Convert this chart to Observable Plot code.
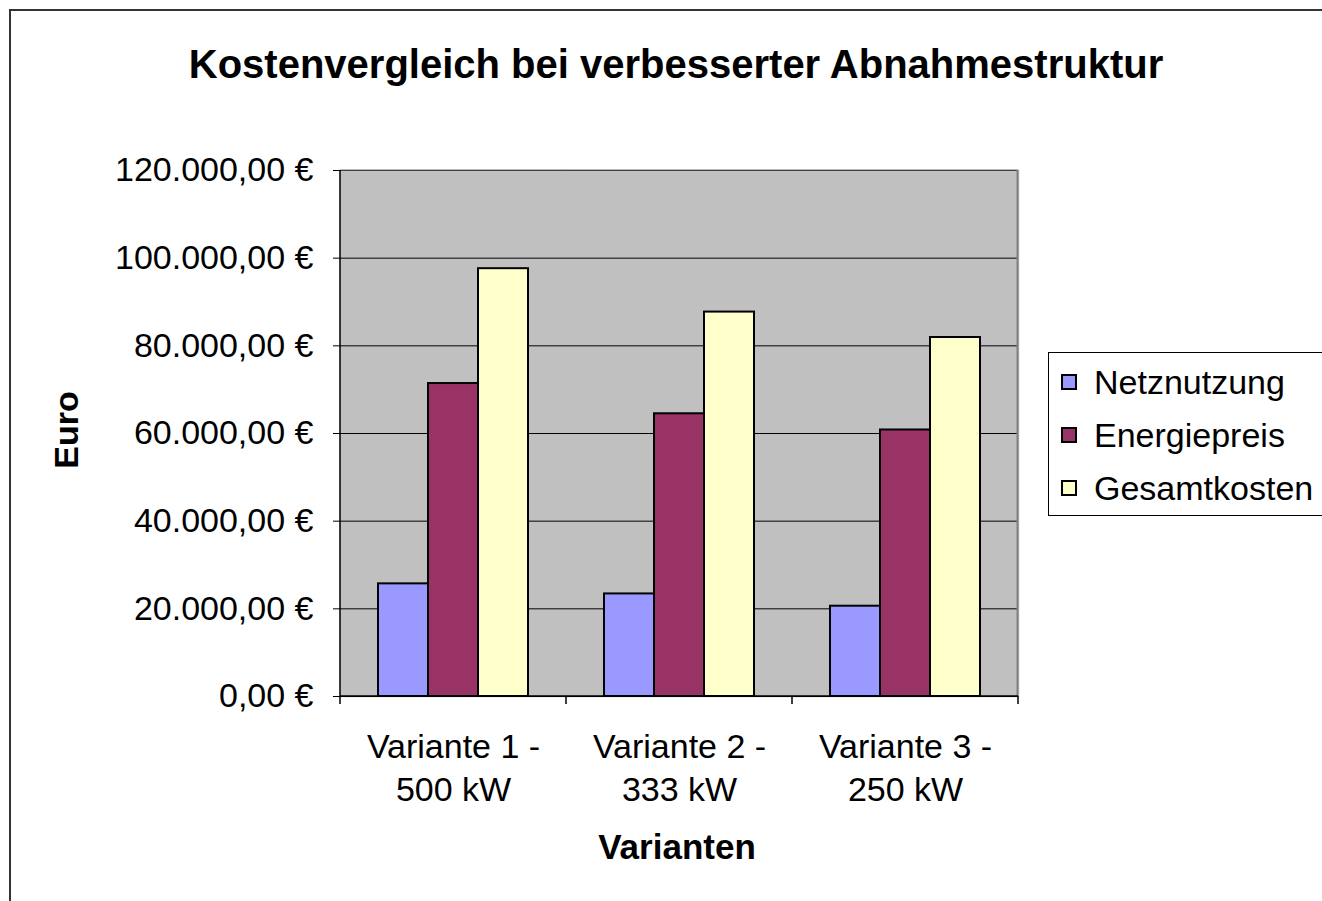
<!DOCTYPE html>
<html>
<head>
<meta charset="utf-8">
<script src="https://cdn.jsdelivr.net/npm/d3@7"></script>
<script src="https://cdn.jsdelivr.net/npm/@observablehq/plot@0.6"></script>
<style>
  html, body { margin: 0; padding: 0; background: #fff; overflow: hidden; }
  body { width: 1322px; height: 901px; position: relative; font-family: "Liberation Sans", Arial, sans-serif; }
  #wrap { position: absolute; left: 0; top: 0; width: 1322px; height: 901px; }
  #border { position: absolute; left: 9px; top: 9px; width: 1400px; height: 1000px; border: 2px solid #333; box-sizing: border-box; }
  #title { position: absolute; left: 176px; top: 44px; width: 1000px; text-align: center; font-weight: bold; font-size: 40px; line-height: 40px; white-space: nowrap; }
  #ylabel { position: absolute; left: 66px; top: 430px; transform: translate(-50%, -50%) rotate(-90deg); font-weight: bold; font-size: 34px; line-height: 34px; white-space: nowrap; }
  #xlabel { position: absolute; left: 477px; top: 829px; width: 400px; text-align: center; font-weight: bold; font-size: 35px; line-height: 35px; }
  #legend { position: absolute; left: 1048px; top: 352px; width: 300px; height: 164px; border: 1px solid #000; background: #fff; box-sizing: border-box; }
  .item { position: absolute; left: 12px; height: 34px; display: flex; align-items: center; font-size: 34px; line-height: 34px; white-space: nowrap; }
  .sw { width: 12px; height: 12px; border: 2px solid #000; margin-right: 17px; }
  #chart { position: absolute; left: 0; top: 0; }
</style>
</head>
<body>
<div id="wrap">
  <div id="border"></div>
  <div id="title">Kostenvergleich bei verbesserter Abnahmestruktur</div>
  <div id="ylabel">Euro</div>
  <div id="xlabel">Varianten</div>
  <div id="chart"></div>
  <div id="legend"></div>
</div>
<script>
// ---- data ----
const categories = ["Variante 1 - 500 kW", "Variante 2 - 333 kW", "Variante 3 - 250 kW"];
const categoryLabels = ["Variante 1 -\n500 kW", "Variante 2 -\n333 kW", "Variante 3 -\n250 kW"];
const series = ["Netznutzung", "Energiepreis", "Gesamtkosten"];
const netznutzung = [25700, 23400, 20600];
const energiepreis = [71400, 64500, 60800];
const gesamtkosten = [97600, 87700, 81900];
const seriesColors = ["#9999FF", "#993366", "#FFFFCC"];
const yTicks = [0, 20000, 40000, 60000, 80000, 100000, 120000];

const valuesBySeries = [netznutzung, energiepreis, gesamtkosten];
const table = [];
categories.forEach((c, ci) => {
  series.forEach((s, si) => table.push({category: c, series: s, value: valuesBySeries[si][ci]}));
});
const labelOf = new Map(categories.map((c, i) => [c, categoryLabels[i]]));

const de = d3.formatLocale({decimal: ",", thousands: ".", grouping: [3], currency: ["", " €"]});
const fmt = de.format("$,.2f");

const chart = Plot.plot({
  width: 1322,
  height: 901,
  marginLeft: 340,
  marginRight: 304,
  marginTop: 170,
  marginBottom: 205,
  style: {fontFamily: "'Liberation Sans', Arial, sans-serif", fontSize: "34px", color: "#000", background: "transparent", overflow: "visible"},
  fx: {domain: categories, paddingInner: 0, paddingOuter: 0, padding: 0},
  x: {domain: series, paddingInner: 0, paddingOuter: 0.735, axis: null},
  y: {domain: [0, 120000]},
  color: {domain: series, range: seriesColors},
  marks: [
    Plot.frame({fill: "#C0C0C0", stroke: "#C0C0C0", strokeWidth: 1.5}),
    Plot.ruleY(yTicks, {stroke: "#000", strokeWidth: 1}),
    Plot.barY(table, {fx: "category", x: "series", y: "value", fill: "series", stroke: "#000", strokeWidth: 2}),
    Plot.axisY({ticks: yTicks, tickFormat: fmt, tickSize: 7, tickPadding: 20, label: null, stroke: "#000"}),
    Plot.axisFx({anchor: "bottom", tickSize: 0, tickPadding: 32, tickFormat: d => labelOf.get(d), lineHeight: 1.24, label: null})
  ]
});
document.getElementById("chart").appendChild(chart);

// frame lines and category separator ticks, derived from the chart's scales
const fxS = chart.scale("fx");
const yS = chart.scale("y");
const y0 = yS.apply(0), yTop = yS.apply(120000);
const edges = categories.map(c => fxS.apply(c));
edges.push(fxS.apply(categories[categories.length - 1]) + fxS.bandwidth);
const svg = d3.select(chart);
const g = svg.append("g");
const xL = edges[0], xR = edges[edges.length - 1];
g.append("line").attr("x1", xR - 0.5).attr("x2", xR - 0.5).attr("y1", yTop).attr("y2", y0).attr("stroke", "#808080").attr("stroke-width", 2);
g.append("line").attr("x1", xL).attr("x2", xR).attr("y1", yTop).attr("y2", yTop).attr("stroke", "#808080").attr("stroke-width", 1);
g.append("line").attr("x1", xL).attr("x2", xL).attr("y1", yTop).attr("y2", y0 + 0.5).attr("stroke", "#000").attr("stroke-width", 1.5);
g.append("line").attr("x1", xL).attr("x2", xR).attr("y1", y0).attr("y2", y0).attr("stroke", "#000").attr("stroke-width", 1.5);
edges.forEach(x => {
  g.append("line").attr("x1", x).attr("x2", x).attr("y1", y0).attr("y2", y0 + 8).attr("stroke", "#000").attr("stroke-width", 1.5);
});

// legend
const legend = document.getElementById("legend");
series.forEach((s, i) => {
  const it = document.createElement("div");
  it.className = "item";
  it.style.top = (12 + i * 53) + "px";
  const sw = document.createElement("span");
  sw.className = "sw";
  sw.style.background = seriesColors[i];
  it.appendChild(sw);
  it.appendChild(document.createTextNode(s));
  legend.appendChild(it);
});
</script>
</body>
</html>
